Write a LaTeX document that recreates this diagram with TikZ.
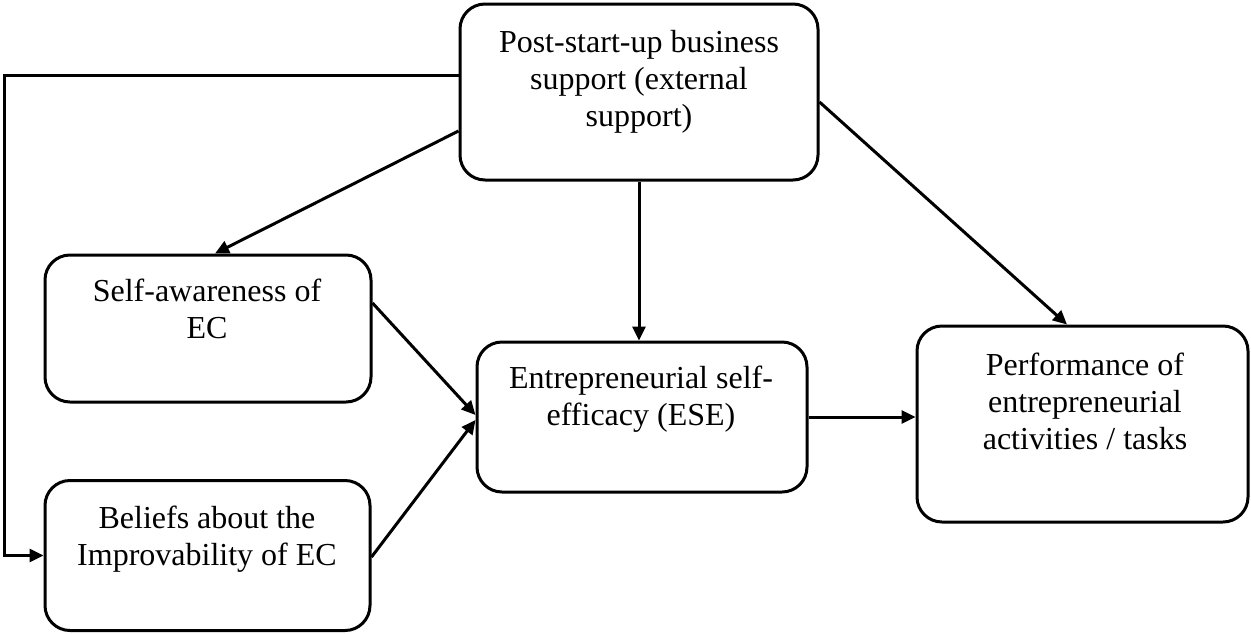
\documentclass[tikz,border=0pt]{standalone}
\usepackage{fontspec}
\setmainfont{Liberation Serif}
\usetikzlibrary{arrows.meta}
\begin{document}
\begin{tikzpicture}[x=1pt,y=-1pt,
  box/.style={draw, line width=3pt, rounded corners=25pt, inner sep=0pt, fill=white},
  txt/.style={anchor=north, align=center, inner sep=0pt, font=\fontsize{32}{37}\selectfont},
  conn/.style={line width=3pt, -{Triangle[length=14pt,width=13pt]}}]
\useasboundingbox (0,0) rectangle (1251,633);
% boxes
\node[box, minimum width=358pt, minimum height=176pt] (top) at (639,92) {};
\node[box, minimum width=326pt, minimum height=147pt] (sa) at (208,328.5) {};
\node[box, minimum width=325pt, minimum height=150pt] (bel) at (207.5,555.5) {};
\node[box, minimum width=330pt, minimum height=150pt] (ese) at (642,417) {};
\node[box, minimum width=331pt, minimum height=196pt] (perf) at (1082.5,424) {};
% texts
\node[txt] (toptxt) at (639,30) {Post-start-up business\\support (external\\support)};
\node[txt] (satxt) at (207,279) {Self-awareness of\\EC};
\node[txt] (beltxt) at (207,506) {Beliefs about the\\Improvability of EC};
\node[txt] (esetxt) at (641,366) {Entrepreneurial self-\\efficacy (ESE)};
\node[txt] (perftxt) at (1085,353) {Performance of\\entrepreneurial\\activities / tasks};
% connectors
\draw[conn] ([yshift=17pt]top.west) -- ++(-454,0) |- (bel.west);
\draw[conn] ([yshift=-39pt]top.west) -- ([xshift=7pt]sa.north);
\draw[conn] (top.south) -- (top.south |- ese.north);
\draw[conn] ([yshift=-10pt]top.east) -- ([xshift=-15.5pt]perf.north);
\draw[conn] ([yshift=25.5pt]sa.east) -- ([yshift=2pt]ese.west);
\draw[conn] ([yshift=-1.5pt]bel.east) -- ([yshift=-3pt]ese.west);
\draw[conn] (ese.east) -- (ese.east -| perf.west);
\end{tikzpicture}
\end{document}
